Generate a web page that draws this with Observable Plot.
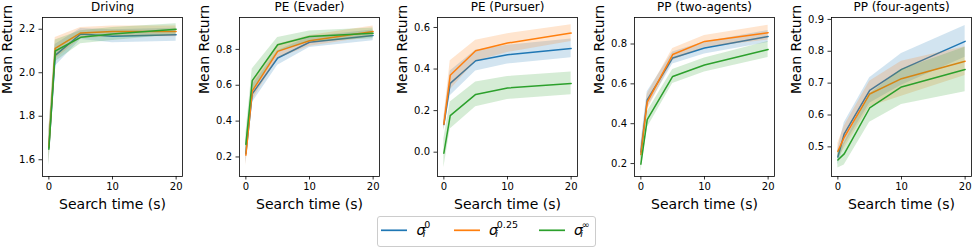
<!DOCTYPE html>
<html>
<head>
<meta charset="utf-8">
<script src="https://cdn.jsdelivr.net/npm/d3@7"></script>
<script src="https://cdn.jsdelivr.net/npm/@observablehq/plot@0.6"></script>
<style>
  html, body { margin: 0; padding: 0; background: white; overflow: hidden; }
  #fig { position: relative; width: 972px; height: 252px; font-family: "DejaVu Sans", sans-serif; }
  #fig svg.panel { position: absolute; top: 0; }
  #legend { position: absolute; left: 377px; top: 216px; }
</style>
</head>
<body>
<div id="fig"></div>
<script>
// ---------- data ----------
const times = [0, 1, 5, 10, 20];
const panelTitles = ["Driving", "PE (Evader)", "PE (Pursuer)", "PP (two-agents)", "PP (four-agents)"];
const seriesKeys = ["0", "0.25", "∞"];
const seriesColors = ["#1f77b4", "#ff7f0e", "#2ca02c"];
const xTicks = [0, 10, 20];

// rows: sigma^0, sigma^0.25, sigma^inf
const drivingMean = [[1.655, 2.08, 2.178, 2.168, 2.175], [1.66, 2.112, 2.183, 2.19, 2.19], [1.648, 2.10, 2.163, 2.178, 2.20]];
const drivingErr  = [[0.08, 0.05, 0.025, 0.03, 0.03], [0.08, 0.05, 0.025, 0.025, 0.025], [0.08, 0.05, 0.03, 0.03, 0.025]];
const drivingTicks = [1.6, 1.8, 2.0, 2.2];

const evaderMean = [[0.219, 0.552, 0.752, 0.84, 0.878], [0.21, 0.567, 0.789, 0.848, 0.9], [0.27, 0.626, 0.826, 0.872, 0.89]];
const evaderErr  = [[0.06, 0.05, 0.04, 0.03, 0.03], [0.06, 0.05, 0.04, 0.03, 0.03], [0.06, 0.065, 0.04, 0.03, 0.03]];
const evaderTicks = [0.2, 0.4, 0.6, 0.8];

const pursuerMean = [[0.133, 0.331, 0.44, 0.469, 0.499], [0.135, 0.37, 0.488, 0.525, 0.573], [-0.005, 0.176, 0.278, 0.309, 0.331]];
const pursuerErr  = [[0.03, 0.06, 0.05, 0.045, 0.045], [0.03, 0.07, 0.05, 0.045, 0.04], [0.07, 0.065, 0.06, 0.055, 0.055]];
const pursuerTicks = [0.0, 0.2, 0.4, 0.6];

const twoMean = [[0.258, 0.52, 0.73, 0.78, 0.838], [0.245, 0.508, 0.747, 0.813, 0.857], [0.197, 0.42, 0.637, 0.695, 0.772]];
const twoErr  = [[0.04, 0.04, 0.03, 0.03, 0.03], [0.04, 0.04, 0.03, 0.03, 0.037], [0.04, 0.04, 0.035, 0.035, 0.04]];
const twoTicks = [0.2, 0.4, 0.6, 0.8];

const fourMean = [[0.468, 0.541, 0.677, 0.743, 0.831], [0.486, 0.53, 0.666, 0.714, 0.769], [0.459, 0.478, 0.622, 0.688, 0.743]];
const fourErr  = [[0.025, 0.035, 0.04, 0.05, 0.05], [0.025, 0.035, 0.04, 0.055, 0.045], [0.025, 0.035, 0.045, 0.055, 0.07]];
const fourTicks = [0.5, 0.6, 0.7, 0.8, 0.9];

// ---------- layout ----------
const axesLefts = [42, 239, 437, 634, 831];
const yDomains = [[1.523, 2.254], [0.091, 0.978], [-0.117, 0.648], [0.135, 0.933], [0.407, 0.906]];
const panels = [
  [drivingMean, drivingErr, drivingTicks],
  [evaderMean, evaderErr, evaderTicks],
  [pursuerMean, pursuerErr, pursuerTicks],
  [twoMean, twoErr, twoTicks],
  [fourMean, fourErr, fourTicks]
];

const fig = document.getElementById("fig");
const mL = 42, mR = 2, mT = 17, mB = 36, innerW = 140, innerH = 159;

panels.forEach(([mean, err, ticks], p) => {
  const marks = [];
  seriesKeys.forEach((key, s) => {
    const d = times.map((t, k) => ({t, m: mean[s][k], lo: mean[s][k] - err[s][k], hi: mean[s][k] + err[s][k], s: key}));
    marks.push(Plot.areaY(d, {x: "t", y1: "lo", y2: "hi", fill: "s", fillOpacity: 0.2, curve: "linear"}));
    marks.push(Plot.lineY(d, {x: "t", y: "m", stroke: "s", strokeWidth: 1.5}));
  });
  marks.push(Plot.frame({stroke: "black", strokeWidth: 0.8}));
  marks.push(Plot.axisX({ticks: xTicks, tickSize: 3.5, tickPadding: 3, label: null, fontSize: 10, strokeWidth: 0.8, tickFormat: d3.format("d")}));
  marks.push(Plot.axisY({ticks, tickSize: 3.5, tickPadding: 4, label: null, fontSize: 10, strokeWidth: 0.8, tickFormat: d3.format(".1f")}));
  marks.push(Plot.text(["Mean Return"], {frameAnchor: "left", rotate: -90, dx: -35, dy: -3, fontSize: 14, fill: "black"}));
  marks.push(Plot.text(["Search time (s)"], {frameAnchor: "bottom", dy: 32, lineAnchor: "bottom", fontSize: 14, fill: "black"}));
  marks.push(Plot.text([panelTitles[p]], {frameAnchor: "top", dy: -6.5, lineAnchor: "bottom", fontSize: 12, fill: "black"}));

  const svg = Plot.plot({
    width: mL + innerW + mR,
    height: mT + innerH + mB,
    marginLeft: mL, marginRight: mR, marginTop: mT, marginBottom: mB,
    style: {background: "transparent", fontFamily: "DejaVu Sans", fontSize: "10px", overflow: "visible", maxWidth: "none"},
    x: {domain: [-1, 21]},
    y: {domain: yDomains[p]},
    color: {domain: seriesKeys, range: seriesColors},
    marks
  });
  svg.classList.add("panel");
  svg.style.left = (axesLefts[p] - mL) + "px";
  fig.appendChild(svg);
});

// ---------- legend ----------
const lw = 218, lh = 30;
const leg = d3.select(fig).append("svg").attr("id", "legend").attr("width", lw + 2).attr("height", lh + 2);
leg.append("rect").attr("x", 0.5).attr("y", 0.5).attr("width", lw).attr("height", lh).attr("rx", 2.5)
  .attr("fill", "white").attr("stroke", "#cccccc").attr("stroke-width", 1);
const lineX = [4, 77, 162];
const labelX = [39.5, 112, 197];
seriesKeys.forEach((key, i) => {
  const g = leg.append("g").attr("font-family", "DejaVu Sans").attr("fill", "black");
  g.append("line").attr("x1", lineX[i]).attr("x2", lineX[i] + 26).attr("y1", 14.3).attr("y2", 14.3)
    .attr("stroke", seriesColors[i]).attr("stroke-width", 1.7);
  const t = g.append("text").attr("x", labelX[i]).attr("y", 19).attr("font-size", 14);
  t.append("tspan").attr("font-style", "italic").text("σ");
  t.append("tspan").attr("font-style", "italic").attr("font-size", 9.5).attr("dx", -2.6).attr("dy", 2).text("i");
  t.append("tspan").attr("font-size", 9.5).attr("dx", -1.1).attr("dy", -9.5).text(key);
});
</script>
</body>
</html>
